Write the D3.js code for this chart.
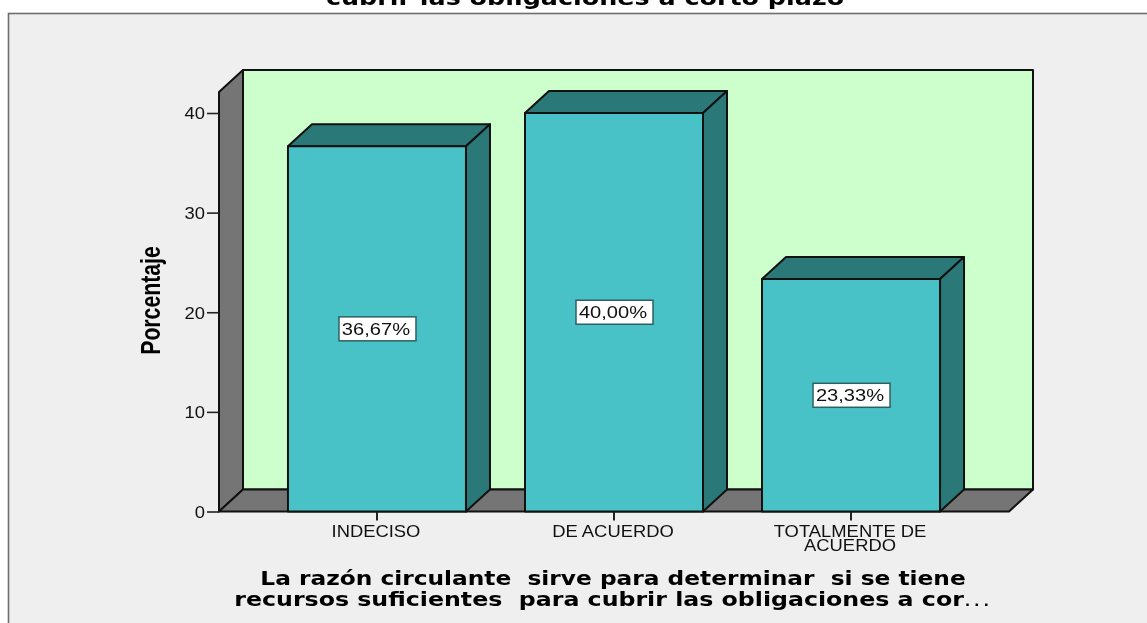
<!DOCTYPE html>
<html><head><meta charset="utf-8">
<script src="https://cdn.jsdelivr.net/npm/d3@7"></script>
<style>html,body{margin:0;padding:0;background:#fff;overflow:hidden}svg{display:block;filter:blur(.35px)}</style>
</head><body><div id="c"></div>
<script>
const categories = ["INDECISO","DE ACUERDO","TOTALMENTE DE ACUERDO"];
const categoryLines = [["INDECISO"],["DE ACUERDO"],["TOTALMENTE DE","ACUERDO"]];
const values = [36.67,40.00,23.33];
const valueLabels = ["36,67%","40,00%","23,33%"];
const yTicks = [0,10,20,30,40];
const titleText = "cubrir las obligaciones a corto plazo";
const yAxisTitle = "Porcentaje";
const xAxisTitle = ["La razón circulante  sirve para determinar  si se tiene","recursos suficientes  para cubrir las obligaciones a cor"];
const ellipsis = "...";

const W=1147,H=623;
const svg=d3.select("#c").append("svg").attr("width",W).attr("height",H);
const dx=24,dy=22;
const x0=219,x1=1009,y0=511.5;
const x=d3.scaleBand().domain(categories).range([x0,x1]).paddingInner(.249).paddingOuter(.291);
const y=d3.scaleLinear().domain([0,40]).range([y0,113]);
const wallTop=y(40)-21;
const ink="#111";
const titleStretch=[1.165,1.185];

svg.append("rect").attr("x",8.5).attr("y",13.5).attr("width",W+20).attr("height",H+20)
  .attr("fill","#efefef").attr("stroke","#6e6e6e").attr("stroke-width",1.6);
svg.append("text").attr("transform","translate(585,4.5) scale(1.21,1)").attr("text-anchor","middle")
  .attr("font-family","DejaVu Sans").attr("font-weight","bold").attr("font-size",21)
  .attr("fill","#000").text(titleText);

const poly=(pts,fill,sw=2)=>svg.append("polygon").attr("points",pts.map(p=>p.join(",")).join(" "))
  .attr("fill",fill).attr("stroke",ink).attr("stroke-width",sw).attr("stroke-linejoin","round");
// back wall, side wall, floor
poly([[x0+dx,wallTop-dy],[x1+dx,wallTop-dy],[x1+dx,y0-dy],[x0+dx,y0-dy]],"#ccffcc");
poly([[x0,wallTop],[x0+dx,wallTop-dy],[x0+dx,y0-dy],[x0,y0]],"#757575");
poly([[x0,y0],[x0+dx,y0-dy],[x1+dx,y0-dy],[x1,y0]],"#757575");

// y axis
const yAxis=d3.axisLeft(y).tickValues(yTicks).tickSize(12);
const ga=svg.append("g").attr("transform",`translate(${x0},0)`).call(yAxis);
ga.select(".domain").remove();
ga.selectAll("line").attr("stroke","#222").attr("stroke-width",1.6);
ga.selectAll("text").attr("x",0).attr("dy","0.36em").attr("transform","translate(-14,0) scale(1.15,1)")
  .attr("font-family","Liberation Sans").attr("font-size",16).attr("fill","#111");

// x axis
const xa=d3.axisBottom(x).tickSize(9).tickFormat("");
const gx=svg.append("g").attr("transform",`translate(0,${y0})`).call(xa);
gx.select(".domain").remove();
gx.selectAll("line").attr("stroke","#222").attr("stroke-width",2);

// bars
categories.forEach((c,i)=>{
  const l=x(c),r=l+x.bandwidth(),v=y(values[i]);
  poly([[l,v],[l+dx,v-dy],[r+dx,v-dy],[r,v]],"#2b7878");
  poly([[r,v],[r+dx,v-dy],[r+dx,y0-dy],[r,y0]],"#2b7878");
  poly([[l,v],[r,v],[r,y0],[l,y0]],"#48c2c6");
  const cx=l+x.bandwidth()/2, cy=y(values[i]/2);
  svg.append("rect").attr("x",cx-38).attr("y",cy-12).attr("width",77).attr("height",24)
    .attr("fill","#fff").attr("stroke","#2f5f60").attr("stroke-width",1.5);
  svg.append("text").attr("transform",`translate(${cx-1},${cy+6}) scale(1.22,1)`).attr("text-anchor","middle")
    .attr("font-family","Liberation Sans").attr("font-size",16.5).attr("fill","#111").text(valueLabels[i]);
  categoryLines[i].forEach((s,j)=>svg.append("text").attr("transform",`translate(${cx-1},${537+j*13.5}) scale(1.15,1)`)
    .attr("text-anchor","middle").attr("font-family","Liberation Sans").attr("font-size",16)
    .attr("fill","#111").text(s));
});

// axis titles
svg.append("text").attr("transform","translate(160,300.5) rotate(-90) scale(1.18,1.5)")
  .attr("text-anchor","middle").attr("font-family","Liberation Sans").attr("font-weight","bold")
  .attr("font-size",18).attr("fill","#000").text(yAxisTitle);
xAxisTitle.forEach((s,j)=>{
  const t=svg.append("text").attr("transform",`translate(613,${585+j*20.5}) scale(${titleStretch[j]},1)`)
    .style("white-space","pre")
    .attr("text-anchor","middle").attr("font-family","DejaVu Sans").attr("font-weight","bold")
    .attr("font-size",20).attr("fill","#000").text(s);
  if(j===1) t.append("tspan").attr("font-weight","normal").attr("letter-spacing",1.5).text(ellipsis);
});
</script></body></html>
